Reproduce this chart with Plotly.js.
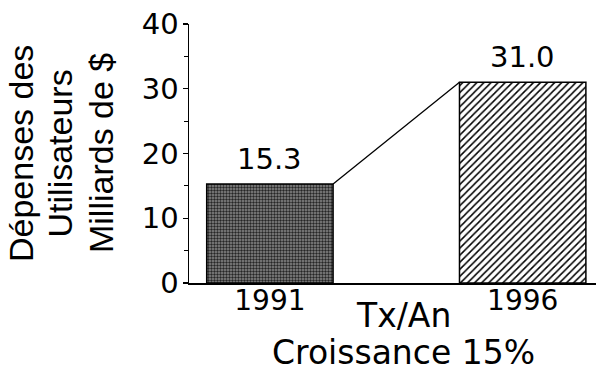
<!DOCTYPE html>
<html><head><meta charset="utf-8">
<script src="https://cdn.plot.ly/plotly-3.0.1.min.js"></script>
<style>html,body{margin:0;padding:0;background:#fff}#chart{width:596px;height:374px}</style>
</head><body><div id="chart"></div>
<script>
const categories = ['1991', '1996'];
const values = [15.3, 31.0];
const valueLabels = ['15.3', '31.0'];
const yTickVals = [0, 10, 20, 30, 40];
const yTitleLines = ['Dépenses des', 'Utilisateurs', 'Milliards de $'];
const growthLines = ['Tx/An', 'Croissance 15%'];

const barWidth = 0.5;
const xIdx = categories.map((c, i) => i);
const hFont = 'DejaVu Sans, Liberation Sans, Arial, sans-serif';
const vFont = 'Liberation Sans, Arial, sans-serif';

const bar1 = {
  type: 'bar', x: [xIdx[0]], y: [values[0]], width: barWidth,
  marker: {
    color: '#5a5a5a',
    pattern: {shape: '.', fgcolor: '#262626', bgcolor: '#8a8a8a', size: 3, solidity: 0.5},
    line: {color: '#000', width: 1.5}
  },
  hoverinfo: 'skip', showlegend: false
};
const bar2 = {
  type: 'bar', x: [xIdx[1]], y: [values[1]], width: barWidth,
  marker: {
    color: '#ffffff',
    pattern: {shape: '/', fgcolor: '#000', bgcolor: '#fff', size: 5, solidity: 0.3},
    line: {color: '#000', width: 1.5}
  },
  hoverinfo: 'skip', showlegend: false
};
const connector = {
  type: 'scatter', mode: 'lines',
  x: [xIdx[0] + barWidth / 2, xIdx[1] - barWidth / 2],
  y: [values[0], values[1]],
  line: {color: '#000', width: 1.3},
  hoverinfo: 'skip', showlegend: false
};

const annotations = [];
values.forEach((v, i) => annotations.push({
  x: xIdx[i], y: v, xref: 'x', yref: 'y', text: valueLabels[i], showarrow: false,
  xanchor: 'center', yanchor: 'bottom', yshift: 6,
  font: {family: hFont, size: 29, color: '#000'}
}));
const yTitleX = [-0.414, -0.317, -0.2174];
yTitleLines.forEach((t, i) => annotations.push({
  x: yTitleX[i], y: 0.5, xref: 'paper', yref: 'paper', text: t, showarrow: false,
  textangle: -90, xanchor: 'center', yanchor: 'middle',
  font: {family: vFont, size: 34, color: '#000'}
}));
const growthX = [0.526, 0.528];
const growthY = [-0.1236, -0.268];
growthLines.forEach((t, i) => annotations.push({
  x: growthX[i], y: growthY[i], xref: 'paper', yref: 'paper', text: t, showarrow: false,
  xanchor: 'center', yanchor: 'middle',
  font: {family: hFont, size: 33, color: '#000'}
}));

const layout = {
  width: 596, height: 374,
  margin: {l: 189, r: 0, t: 24, b: 91, pad: 0},
  paper_bgcolor: '#fff', plot_bgcolor: '#fff',
  bargap: 0,
  xaxis: {
    range: [-0.32, 1.29], tickvals: xIdx, ticktext: categories,
    showgrid: false, zeroline: false, showline: true, linecolor: '#000', linewidth: 1.5,
    ticks: '', ticklabelstandoff: -8,
    tickfont: {family: hFont, size: 28, color: '#000'},
    fixedrange: true
  },
  yaxis: {
    range: [0, 40], tickvals: yTickVals,
    showgrid: false, zeroline: false, showline: true, linecolor: '#000', linewidth: 1.5,
    ticks: 'outside', ticklen: 5, tickwidth: 1.2, tickcolor: '#000', ticklabelstandoff: -2,
    minor: {dtick: 5, ticks: 'outside', ticklen: 4, tickwidth: 1.2, tickcolor: '#000', showgrid: false},
    tickfont: {family: hFont, size: 29, color: '#000'},
    fixedrange: true
  },
  annotations: annotations,
  showlegend: false
};

Plotly.newPlot('chart', [bar1, bar2, connector], layout, {displayModeBar: false, staticPlot: true});
</script>
</body></html>
